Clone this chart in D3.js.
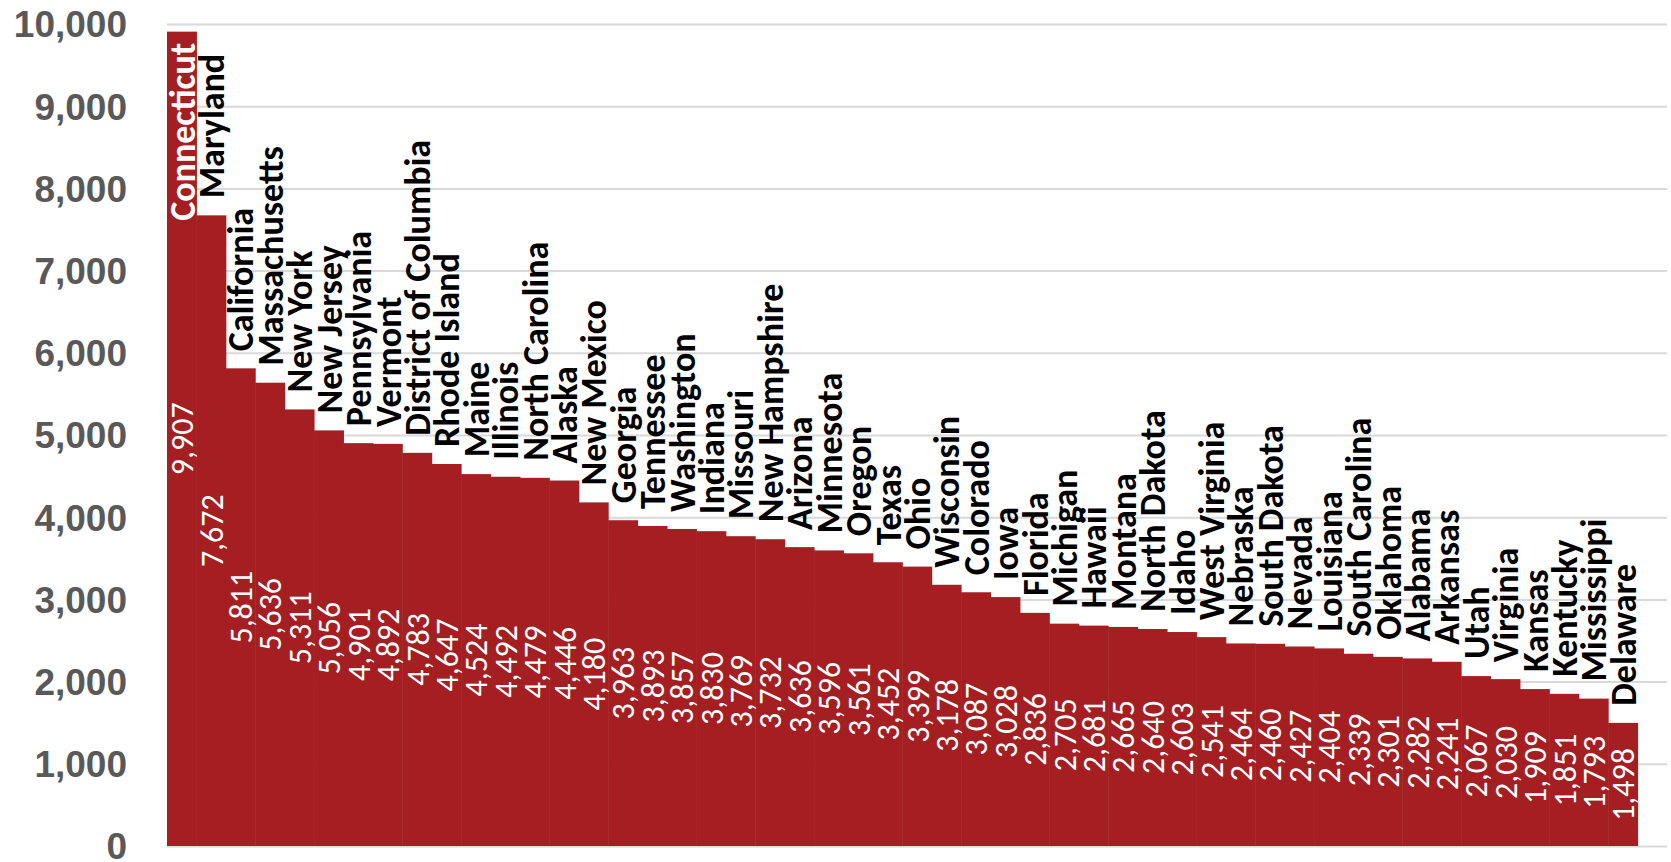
<!DOCTYPE html>
<html>
<head>
<meta charset="utf-8">
<script src="https://cdn.jsdelivr.net/npm/d3@7"></script>
<style>
  body { margin: 0; background: #fff; }
  svg { display: block; }
</style>
</head>
<body>
<svg id="drawing_region"></svg>
<script>
const states = ["Connecticut", "Maryland", "California", "Massachusetts", "New York", "New Jersey",
  "Pennsylvania", "Vermont", "District of Columbia", "Rhode Island", "Maine", "Illinois",
  "North Carolina", "Alaska", "New Mexico", "Georgia", "Tennessee", "Washington", "Indiana",
  "Missouri", "New Hampshire", "Arizona", "Minnesota", "Oregon", "Texas", "Ohio", "Wisconsin",
  "Colorado", "Iowa", "Florida", "Michigan", "Hawaii", "Montana", "North Dakota", "Idaho",
  "West Virginia", "Nebraska", "South Dakota", "Nevada", "Louisiana", "South Carolina",
  "Oklahoma", "Alabama", "Arkansas", "Utah", "Virginia", "Kansas", "Kentucky", "Mississippi",
  "Delaware"];
const values = [9907, 7672, 5811, 5636, 5311, 5056, 4901, 4892, 4783, 4647, 4524, 4492, 4479,
  4446, 4180, 3963, 3893, 3857, 3830, 3769, 3732, 3636, 3596, 3561, 3452, 3399, 3178, 3087,
  3028, 2836, 2705, 2681, 2665, 2640, 2603, 2541, 2464, 2460, 2427, 2404, 2339, 2301, 2282,
  2241, 2067, 2030, 1909, 1851, 1793, 1498];
const yTicks = [0, 1000, 2000, 3000, 4000, 5000, 6000, 7000, 8000, 9000, 10000];

const data = states.map((s, i) => ({ label: s, value: values[i] }));

class StepBarChart {
    constructor( config, data ) {
        this.config = config;
        this.data = data;
        this.init();
    }

    init() {
        let self = this;
        const m = self.config.margin;
        self.inner_width = self.config.width - m.left - m.right;
        self.inner_height = self.config.height - m.top - m.bottom;

        self.svg = d3.select( self.config.parent )
            .attr('width', self.config.width)
            .attr('height', self.config.height);

        self.chart = self.svg.append('g')
            .attr('transform', `translate(${m.left}, ${m.top})`);

        // one empty slot is left at the right end of the plot area
        self.xscale = d3.scaleBand()
            .domain( self.data.map( d => d.label ) )
            .range( [0, self.inner_width * self.data.length / (self.data.length + 1)] )
            .padding(0);

        self.yscale = d3.scaleLinear()
            .domain( [0, 10000] )
            .range( [self.inner_height, 0] );

        self.yaxis = d3.axisLeft( self.yscale )
            .tickValues( yTicks )
            .tickFormat( d3.format(',') )
            .tickSize( -self.inner_width )
            .tickPadding( 40 );
    }

    update() {
        let self = this;
        self.render();
    }

    render() {
        let self = this;
        const fill = '#a41e22';

        const yaxis_group = self.chart.append('g')
            .call( self.yaxis );
        yaxis_group.select('.domain').remove();
        yaxis_group.selectAll('.tick line')
            .attr('stroke', '#d9d9d9')
            .attr('stroke-width', 2);
        yaxis_group.selectAll('.tick text')
            .attr('fill', '#595959')
            .attr('font-family', 'Liberation Sans, Arial, sans-serif')
            .attr('font-weight', 'bold')
            .attr('font-size', '37px')
            .attr('dy', '0.35em');

        self.chart.selectAll('.bar')
            .data( self.data )
            .join('rect')
            .attr('class', 'bar')
            .attr('x', d => self.xscale( d.label ))
            .attr('y', d => self.yscale( d.value ))
            .attr('width', self.xscale.bandwidth() + 0.5)
            .attr('height', d => self.inner_height - self.yscale( d.value ))
            .attr('fill', fill);

        const cx = d => self.xscale( d.label ) + self.xscale.bandwidth() / 2;

        // value labels, centred on each bar
        self.chart.selectAll('.value')
            .data( self.data )
            .join('text')
            .attr('class', 'value')
            .attr('transform', d => `translate(${cx(d)}, ${self.yscale( d.value / 2 )}) rotate(-90)`)
            .attr('dy', '0.36em')
            .attr('text-anchor', 'middle')
            .attr('fill', 'white')
            .attr('font-family', 'Carlito, Lato, sans-serif')
            .attr('font-size', '32px')
            .text( d => d3.format(',')( d.value ) );

        // state names above each bar; the tallest one goes inside
        const top = self.data[0].value;
        self.chart.selectAll('.name')
            .data( self.data )
            .join('text')
            .attr('class', 'name')
            .attr('transform', d => d.value === top
                ? `translate(${cx(d)}, ${self.yscale( d.value ) + 11}) rotate(-90)`
                : `translate(${cx(d)}, ${self.yscale( d.value ) - 17}) rotate(-90)`)
            .attr('dy', '0.36em')
            .attr('text-anchor', d => d.value === top ? 'end' : 'start')
            .attr('fill', d => d.value === top ? 'white' : 'black')
            .attr('font-family', 'Carlito, Lato, sans-serif')
            .attr('font-weight', 'bold')
            .attr('font-size', '36px')
            .text( d => d.label );
    }
}

const config = {
    parent: '#drawing_region',
    width: 1671,
    height: 862,
    margin: {top: 24, right: 4, bottom: 16, left: 167}
};

const chart = new StepBarChart( config, data );
chart.update();
</script>
</body>
</html>
